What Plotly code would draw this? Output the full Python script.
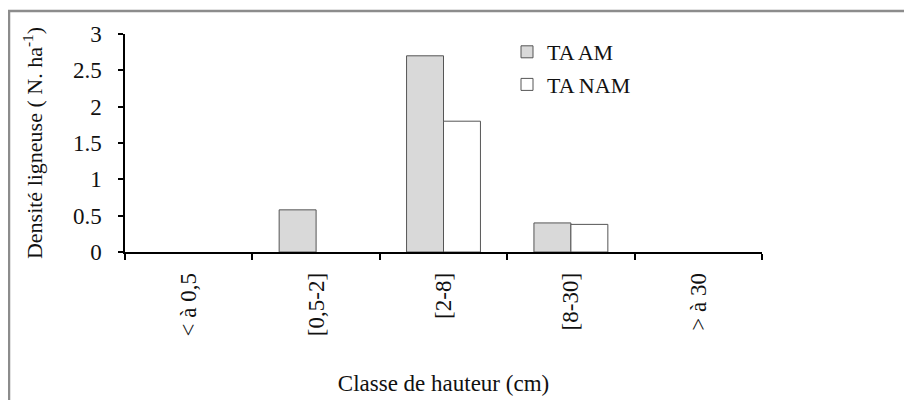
import plotly.graph_objects as go

categories = ["< à 0,5", "[0,5-2]", "[2-8]", "[8-30]", "> à 30"]
ta_am = [0, 0.58, 2.7, 0.4, 0]
ta_nam = [0, 0, 1.8, 0.38, 0]

FONT = "Liberation Serif"

def shown(vals):
    # zero-height bars are not drawn in the reference
    return [v if v != 0 else None for v in vals]

fig = go.Figure()
fig.add_trace(go.Bar(x=categories, y=shown(ta_am), name="TA AM", legendgroup="a",
                     marker=dict(color="#d9d9d9", line=dict(color="#555555", width=1))))
fig.add_trace(go.Bar(x=categories, y=shown(ta_nam), name="TA NAM", legendgroup="b",
                     marker=dict(color="#ffffff", line=dict(color="#555555", width=1))))

# the page has an 8px body margin; positions below are page pixels
OFF = 8
W, H = 912 - OFF, 400 - OFF
PL, PR, PT, PB = 125, 762, 34, 252
L, T = PL - OFF, PT - OFF
R, B = W + OFF - PR, H + OFF - PB
pw, ph = PR - PL, PB - PT

def px_x(x):
    return (x - PL) / pw

def px_y(y):
    return (PB - y) / ph

fig.update_layout(
    width=W, height=H,
    margin=dict(l=L, r=R, t=T, b=B, autoexpand=False),
    paper_bgcolor="white", plot_bgcolor="white",
    font=dict(family=FONT, size=22, color="#111111"),
    barmode="group", bargap=0.42, bargroupgap=0,
    showlegend=True,
    legend=dict(x=px_x(507), y=px_y(31), xanchor="left", yanchor="top",
                font=dict(size=22), bgcolor="rgba(0,0,0,0)", tracegroupgap=1,
                traceorder="grouped", itemwidth=30),
    xaxis=dict(
        showline=True, linecolor="black", linewidth=1.5,
        ticks="outside", ticklen=6, tickcolor="black", tickwidth=1.5,
        tickson="boundaries", ticklabelstandoff=10,
        tickangle=-90, tickfont=dict(size=23),
        title=dict(text="Classe de hauteur (cm)", font=dict(size=23), standoff=40),
        showgrid=False,
    ),
    yaxis=dict(
        range=[0, 3], dtick=0.5,
        showline=True, linecolor="black", linewidth=1.5,
        ticks="outside", ticklen=5, tickcolor="black", tickwidth=1.5,
        ticklabelstandoff=12,
        tickfont=dict(size=23),
        title=dict(text="Densité ligneuse ( N. ha<sup>-1</sup>)", font=dict(size=22), standoff=24),
        showgrid=False, zeroline=False,
    ),
    shapes=[dict(type="rect", xref="paper", yref="paper",
                 x0=px_x(9), x1=1.4, y0=-1.0, y1=px_y(11),
                 line=dict(color="#8c8c8c", width=2.5), fillcolor="rgba(0,0,0,0)")],
)

fig.write_html("out.html")
